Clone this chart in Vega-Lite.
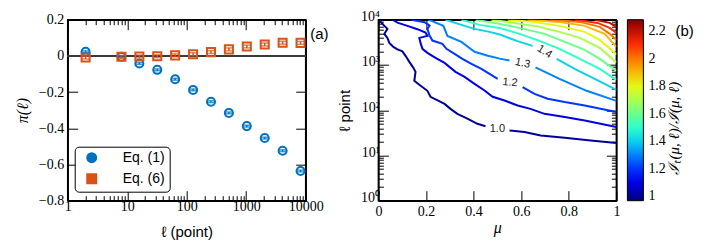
{
  "$schema": "https://vega.github.io/schema/vega-lite/v6.json",
  "padding": {"left": 12.7, "top": 8.7, "right": 0, "bottom": 0},
  "background": "white",
  "config": {
    "view": {"stroke": "black", "strokeWidth": 1.5},
    "axis": {"domainColor": "black", "domainWidth": 1.5, "tickColor": "black", "tickWidth": 1, "grid": false, "labelFont": "Liberation Serif", "labelFontSize": 14, "labelColor": "black", "titleColor": "black", "titleFontWeight": "normal", "labelFlush": false, "labelOverlap": false}
  },
  "bounds": "flush",
  "spacing": 72.7,
  "resolve": {"scale": {"color": "independent", "shape": "independent", "stroke": "independent"}, "legend": {"color": "independent", "shape": "independent", "stroke": "independent"}},
  "hconcat": [
    {
      "width": 238,
      "height": 181,
      "data": {"values": [
        {"series": "Eq. (1)", "ell": 2, "pi": 0.023, "err": 0.005},
        {"series": "Eq. (1)", "ell": 8, "pi": -0.005, "err": 0.005},
        {"series": "Eq. (1)", "ell": 16, "pi": -0.042, "err": 0.005},
        {"series": "Eq. (1)", "ell": 32, "pi": -0.077, "err": 0.005},
        {"series": "Eq. (1)", "ell": 64, "pi": -0.129, "err": 0.005},
        {"series": "Eq. (1)", "ell": 128, "pi": -0.188, "err": 0.005},
        {"series": "Eq. (1)", "ell": 256, "pi": -0.253, "err": 0.005},
        {"series": "Eq. (1)", "ell": 512, "pi": -0.315, "err": 0.005},
        {"series": "Eq. (1)", "ell": 1024, "pi": -0.388, "err": 0.005},
        {"series": "Eq. (1)", "ell": 2048, "pi": -0.454, "err": 0.005},
        {"series": "Eq. (1)", "ell": 4096, "pi": -0.524, "err": 0.005},
        {"series": "Eq. (1)", "ell": 8192, "pi": -0.636, "err": 0.005},
        {"series": "Eq. (6)", "ell": 2, "pi": -0.009, "err": 0.008},
        {"series": "Eq. (6)", "ell": 8, "pi": -0.005, "err": 0.008},
        {"series": "Eq. (6)", "ell": 16, "pi": -0.003, "err": 0.008},
        {"series": "Eq. (6)", "ell": 32, "pi": -0.002, "err": 0.008},
        {"series": "Eq. (6)", "ell": 64, "pi": 0.003, "err": 0.008},
        {"series": "Eq. (6)", "ell": 128, "pi": 0.009, "err": 0.008},
        {"series": "Eq. (6)", "ell": 256, "pi": 0.021, "err": 0.008},
        {"series": "Eq. (6)", "ell": 512, "pi": 0.036, "err": 0.008},
        {"series": "Eq. (6)", "ell": 1024, "pi": 0.052, "err": 0.008},
        {"series": "Eq. (6)", "ell": 2048, "pi": 0.063, "err": 0.008},
        {"series": "Eq. (6)", "ell": 4096, "pi": 0.073, "err": 0.008},
        {"series": "Eq. (6)", "ell": 8192, "pi": 0.072, "err": 0.008}
      ]},
      "layer": [
        {
          "mark": {"type": "rule", "color": "#3a3a3a", "strokeWidth": 2},
          "encoding": {"y": {"datum": 0, "type": "quantitative", "scale": {"domain": [-0.8, 0.2], "nice": false, "zero": false}, "axis": null}}
        },
        {
          "mark": {"type": "point", "filled": false, "strokeWidth": 2, "opacity": 1, "size": 65},
          "encoding": {
            "x": {"field": "ell", "type": "quantitative", "scale": {"type": "log", "domain": [1, 10000], "nice": false},
              "axis": {"orient": "bottom", "values": [1,2,3,4,5,6,7,8,9,10,20,30,40,50,60,70,80,90,100,200,300,400,500,600,700,800,900,1000,2000,3000,4000,5000,6000,7000,8000,9000,10000],
                "labelExpr": "abs(log(datum.value)/LN10 - round(log(datum.value)/LN10)) < 0.001 ? format(datum.value, 'd') : ''",
                "tickSize": {"condition": {"test": "abs(log(datum.value)/LN10 - round(log(datum.value)/LN10)) < 0.001", "value": -10}, "value": -5},
                "labelPadding": 9, "title": "ℓ (point)", "titleFont": "Liberation Sans", "titleFontSize": 15, "titlePadding": 6}},
            "y": {"field": "pi", "type": "quantitative", "scale": {"domain": [-0.8, 0.2], "nice": false, "zero": false},
              "axis": {"orient": "left", "values": [-0.8, -0.6, -0.4, -0.2, 0, 0.2], "labelExpr": "datum.value == 0 ? '0' : format(datum.value, '.1f')", "tickSize": -10, "labelPadding": 14, "title": "π(ℓ)", "titleFont": "Liberation Serif", "titleFontStyle": "italic", "titleFontSize": 16, "titlePadding": 8}},
            "stroke": {"field": "series", "type": "nominal", "scale": {"domain": ["Eq. (1)", "Eq. (6)"], "range": ["#0072BD", "#D95319"]},
              "legend": {"orient": "none", "legendX": 7, "legendY": 127, "title": null, "fillColor": "white", "strokeColor": "black", "cornerRadius": 4, "padding": 4, "labelFont": "Liberation Sans", "labelFontSize": 14, "labelColor": "black", "symbolStrokeWidth": 2, "symbolSize": 80, "symbolFillColor": "transparent", "rowPadding": 3, "labelOffset": 24, "symbolOffset": 6}},
            "shape": {"field": "series", "type": "nominal", "scale": {"domain": ["Eq. (1)", "Eq. (6)"], "range": ["circle", "square"]},
              "legend": {"orient": "none", "legendX": 7, "legendY": 127, "title": null, "fillColor": "white", "strokeColor": "black", "cornerRadius": 4, "padding": 4, "labelFont": "Liberation Sans", "labelFontSize": 14, "labelColor": "black", "symbolStrokeWidth": 2, "symbolSize": 80, "symbolFillColor": "transparent", "rowPadding": 3, "labelOffset": 24, "symbolOffset": 6}}
          }
        },
        {
          "mark": {"type": "errorbar", "ticks": {"size": 8, "thickness": 1.5}, "thickness": 1.5},
          "encoding": {
            "x": {"field": "ell", "type": "quantitative", "scale": {"type": "log", "domain": [1, 10000], "nice": false},
              "axis": {"orient": "top", "values": [1,2,3,4,5,6,7,8,9,10,20,30,40,50,60,70,80,90,100,200,300,400,500,600,700,800,900,1000,2000,3000,4000,5000,6000,7000,8000,9000,10000], "labels": false, "title": null,
                "tickSize": {"condition": {"test": "abs(log(datum.value)/LN10 - round(log(datum.value)/LN10)) < 0.001", "value": -10}, "value": -5}}},
            "y": {"field": "pi", "type": "quantitative", "scale": {"domain": [-0.8, 0.2], "nice": false, "zero": false},
              "axis": {"orient": "right", "values": [-0.8, -0.6, -0.4, -0.2, 0, 0.2], "labels": false, "title": null, "tickSize": -10}},
            "yError": {"field": "err"},
            "color": {"field": "series", "type": "nominal", "scale": {"domain": ["Eq. (1)", "Eq. (6)"], "range": ["#0072BD", "#D95319"]}, "legend": null}
          }
        },
        {
          "data": {"values": [{"tag": "(a)"}]},
          "mark": {"type": "text", "font": "Liberation Sans", "fontSize": 15, "color": "black", "align": "center", "baseline": "middle"},
          "encoding": {
            "x": {"datum": 17000, "type": "quantitative", "scale": {"type": "log", "domain": [1, 10000], "nice": false}, "axis": null},
            "y": {"datum": 0.12, "type": "quantitative", "scale": {"domain": [-0.8, 0.2], "nice": false, "zero": false}, "axis": null},
            "text": {"field": "tag"}
          }
        }
      ],
      "resolve": {"axis": {"x": "independent", "y": "independent"}}
    },
    {
      "width": 238,
      "height": 181,
      "layer": [
        {
          "data": {"values": [
            {"level": 1.0, "seg": "1.0a", "i": 0, "mu": 0.004, "ell": 9700},
            {"level": 1.0, "seg": "1.0a", "i": 1, "mu": 0.017, "ell": 8080},
            {"level": 1.0, "seg": "1.0a", "i": 2, "mu": 0.038, "ell": 6270},
            {"level": 1.0, "seg": "1.0a", "i": 3, "mu": 0.025, "ell": 4860},
            {"level": 1.0, "seg": "1.0a", "i": 4, "mu": 0.038, "ell": 3960},
            {"level": 1.0, "seg": "1.0a", "i": 5, "mu": 0.046, "ell": 3070},
            {"level": 1.0, "seg": "1.0a", "i": 6, "mu": 0.063, "ell": 2510},
            {"level": 1.0, "seg": "1.0a", "i": 7, "mu": 0.080, "ell": 2210},
            {"level": 1.0, "seg": "1.0a", "i": 8, "mu": 0.101, "ell": 2000},
            {"level": 1.0, "seg": "1.0a", "i": 9, "mu": 0.114, "ell": 1590},
            {"level": 1.0, "seg": "1.0a", "i": 10, "mu": 0.130, "ell": 1170},
            {"level": 1.0, "seg": "1.0a", "i": 11, "mu": 0.147, "ell": 863},
            {"level": 1.0, "seg": "1.0a", "i": 12, "mu": 0.156, "ell": 704},
            {"level": 1.0, "seg": "1.0a", "i": 13, "mu": 0.151, "ell": 446},
            {"level": 1.0, "seg": "1.0a", "i": 14, "mu": 0.172, "ell": 364},
            {"level": 1.0, "seg": "1.0a", "i": 15, "mu": 0.206, "ell": 268},
            {"level": 1.0, "seg": "1.0a", "i": 16, "mu": 0.219, "ell": 198},
            {"level": 1.0, "seg": "1.0a", "i": 17, "mu": 0.278, "ell": 138},
            {"level": 1.0, "seg": "1.0a", "i": 18, "mu": 0.303, "ell": 107},
            {"level": 1.0, "seg": "1.0a", "i": 19, "mu": 0.332, "ell": 83},
            {"level": 1.0, "seg": "1.0a", "i": 20, "mu": 0.374, "ell": 65},
            {"level": 1.0, "seg": "1.0a", "i": 21, "mu": 0.416, "ell": 50},
            {"level": 1.0, "seg": "1.0a", "i": 22, "mu": 0.450, "ell": 44},
            {"level": 1.0, "seg": "1.0b", "i": 23, "mu": 0.551, "ell": 35.6},
            {"level": 1.0, "seg": "1.0b", "i": 24, "mu": 0.614, "ell": 32.9},
            {"level": 1.0, "seg": "1.0b", "i": 25, "mu": 0.682, "ell": 27.7},
            {"level": 1.0, "seg": "1.0b", "i": 26, "mu": 0.783, "ell": 24.6},
            {"level": 1.0, "seg": "1.0b", "i": 27, "mu": 0.892, "ell": 21.4},
            {"level": 1.0, "seg": "1.0b", "i": 28, "mu": 1.0, "ell": 18.8},
            {"level": 1.1, "seg": "1.1", "i": 0, "mu": 0.059, "ell": 10000},
            {"level": 1.1, "seg": "1.1", "i": 1, "mu": 0.080, "ell": 8630},
            {"level": 1.1, "seg": "1.1", "i": 2, "mu": 0.122, "ell": 7300},
            {"level": 1.1, "seg": "1.1", "i": 3, "mu": 0.164, "ell": 6170},
            {"level": 1.1, "seg": "1.1", "i": 4, "mu": 0.198, "ell": 5190},
            {"level": 1.1, "seg": "1.1", "i": 5, "mu": 0.206, "ell": 4390},
            {"level": 1.1, "seg": "1.1", "i": 6, "mu": 0.172, "ell": 3960},
            {"level": 1.1, "seg": "1.1", "i": 7, "mu": 0.177, "ell": 3070},
            {"level": 1.1, "seg": "1.1", "i": 8, "mu": 0.185, "ell": 2270},
            {"level": 1.1, "seg": "1.1", "i": 9, "mu": 0.206, "ell": 1850},
            {"level": 1.1, "seg": "1.1", "i": 10, "mu": 0.240, "ell": 1440},
            {"level": 1.1, "seg": "1.1", "i": 11, "mu": 0.278, "ell": 1110},
            {"level": 1.1, "seg": "1.1", "i": 12, "mu": 0.324, "ell": 704},
            {"level": 1.1, "seg": "1.1", "i": 13, "mu": 0.362, "ell": 546},
            {"level": 1.1, "seg": "1.1", "i": 14, "mu": 0.404, "ell": 383},
            {"level": 1.1, "seg": "1.1", "i": 15, "mu": 0.446, "ell": 272},
            {"level": 1.1, "seg": "1.1", "i": 16, "mu": 0.480, "ell": 198},
            {"level": 1.1, "seg": "1.1", "i": 17, "mu": 0.530, "ell": 164},
            {"level": 1.1, "seg": "1.1", "i": 18, "mu": 0.585, "ell": 127},
            {"level": 1.1, "seg": "1.1", "i": 19, "mu": 0.639, "ell": 107},
            {"level": 1.1, "seg": "1.1", "i": 20, "mu": 0.698, "ell": 83},
            {"level": 1.1, "seg": "1.1", "i": 21, "mu": 0.783, "ell": 70.4},
            {"level": 1.1, "seg": "1.1", "i": 22, "mu": 0.867, "ell": 59.3},
            {"level": 1.1, "seg": "1.1", "i": 23, "mu": 1.0, "ell": 42.4},
            {"level": 1.2, "seg": "1.2a", "i": 0, "mu": 0.139, "ell": 10000},
            {"level": 1.2, "seg": "1.2a", "i": 1, "mu": 0.194, "ell": 8810},
            {"level": 1.2, "seg": "1.2a", "i": 2, "mu": 0.215, "ell": 7410},
            {"level": 1.2, "seg": "1.2a", "i": 3, "mu": 0.206, "ell": 6270},
            {"level": 1.2, "seg": "1.2a", "i": 4, "mu": 0.215, "ell": 4460},
            {"level": 1.2, "seg": "1.2a", "i": 5, "mu": 0.227, "ell": 3460},
            {"level": 1.2, "seg": "1.2a", "i": 6, "mu": 0.269, "ell": 2920},
            {"level": 1.2, "seg": "1.2a", "i": 7, "mu": 0.286, "ell": 2270},
            {"level": 1.2, "seg": "1.2a", "i": 8, "mu": 0.320, "ell": 1760},
            {"level": 1.2, "seg": "1.2a", "i": 9, "mu": 0.353, "ell": 1360},
            {"level": 1.2, "seg": "1.2a", "i": 10, "mu": 0.391, "ell": 1060},
            {"level": 1.2, "seg": "1.2a", "i": 11, "mu": 0.433, "ell": 820},
            {"level": 1.2, "seg": "1.2a", "i": 12, "mu": 0.467, "ell": 636},
            {"level": 1.2, "seg": "1.2a", "i": 13, "mu": 0.501, "ell": 494},
            {"level": 1.2, "seg": "1.2b", "i": 14, "mu": 0.606, "ell": 324},
            {"level": 1.2, "seg": "1.2b", "i": 15, "mu": 0.656, "ell": 230},
            {"level": 1.2, "seg": "1.2b", "i": 16, "mu": 0.711, "ell": 179},
            {"level": 1.2, "seg": "1.2b", "i": 17, "mu": 0.783, "ell": 151},
            {"level": 1.2, "seg": "1.2b", "i": 18, "mu": 0.867, "ell": 127},
            {"level": 1.2, "seg": "1.2b", "i": 19, "mu": 1.0, "ell": 90.8},
            {"level": 1.3, "seg": "1.3a", "i": 0, "mu": 0.210, "ell": 10000},
            {"level": 1.3, "seg": "1.3a", "i": 1, "mu": 0.273, "ell": 7300},
            {"level": 1.3, "seg": "1.3a", "i": 2, "mu": 0.290, "ell": 4390},
            {"level": 1.3, "seg": "1.3a", "i": 3, "mu": 0.349, "ell": 3240},
            {"level": 1.3, "seg": "1.3a", "i": 4, "mu": 0.404, "ell": 1950},
            {"level": 1.3, "seg": "1.3a", "i": 5, "mu": 0.460, "ell": 1600},
            {"level": 1.3, "seg": "1.3a", "i": 6, "mu": 0.510, "ell": 1380},
            {"level": 1.3, "seg": "1.3a", "i": 7, "mu": 0.551, "ell": 1260},
            {"level": 1.3, "seg": "1.3b", "i": 8, "mu": 0.660, "ell": 885},
            {"level": 1.3, "seg": "1.3b", "i": 9, "mu": 0.761, "ell": 494},
            {"level": 1.3, "seg": "1.3b", "i": 10, "mu": 0.875, "ell": 268},
            {"level": 1.3, "seg": "1.3b", "i": 11, "mu": 1.0, "ell": 161},
            {"level": 1.4, "seg": "1.4a", "i": 0, "mu": 0.282, "ell": 10000},
            {"level": 1.4, "seg": "1.4a", "i": 1, "mu": 0.349, "ell": 7680},
            {"level": 1.4, "seg": "1.4a", "i": 2, "mu": 0.404, "ell": 6270},
            {"level": 1.4, "seg": "1.4a", "i": 3, "mu": 0.467, "ell": 5380},
            {"level": 1.4, "seg": "1.4a", "i": 4, "mu": 0.509, "ell": 4730},
            {"level": 1.4, "seg": "1.4a", "i": 5, "mu": 0.581, "ell": 3400},
            {"level": 1.4, "seg": "1.4a", "i": 6, "mu": 0.648, "ell": 2640},
            {"level": 1.4, "seg": "1.4b", "i": 7, "mu": 0.749, "ell": 1360},
            {"level": 1.4, "seg": "1.4b", "i": 8, "mu": 0.825, "ell": 820},
            {"level": 1.4, "seg": "1.4b", "i": 9, "mu": 0.909, "ell": 494},
            {"level": 1.4, "seg": "1.4b", "i": 10, "mu": 1.0, "ell": 282},
            {"level": 1.5, "seg": "1.5", "i": 0, "mu": 0.349, "ell": 10000},
            {"level": 1.5, "seg": "1.5", "i": 1, "mu": 0.425, "ell": 7680},
            {"level": 1.5, "seg": "1.5", "i": 2, "mu": 0.509, "ell": 6590},
            {"level": 1.5, "seg": "1.5", "i": 3, "mu": 0.593, "ell": 4860},
            {"level": 1.5, "seg": "1.5", "i": 4, "mu": 0.677, "ell": 3400},
            {"level": 1.5, "seg": "1.5", "i": 5, "mu": 0.761, "ell": 2270},
            {"level": 1.5, "seg": "1.5", "i": 6, "mu": 0.846, "ell": 1360},
            {"level": 1.5, "seg": "1.5", "i": 7, "mu": 0.930, "ell": 820},
            {"level": 1.5, "seg": "1.5", "i": 8, "mu": 1.0, "ell": 469},
            {"level": 1.6, "seg": "1.6", "i": 0, "mu": 0.408, "ell": 10000},
            {"level": 1.6, "seg": "1.6", "i": 1, "mu": 0.509, "ell": 8080},
            {"level": 1.6, "seg": "1.6", "i": 2, "mu": 0.593, "ell": 6590},
            {"level": 1.6, "seg": "1.6", "i": 3, "mu": 0.698, "ell": 4860},
            {"level": 1.6, "seg": "1.6", "i": 4, "mu": 0.783, "ell": 3240},
            {"level": 1.6, "seg": "1.6", "i": 5, "mu": 0.867, "ell": 2150},
            {"level": 1.6, "seg": "1.6", "i": 6, "mu": 0.930, "ell": 1360},
            {"level": 1.6, "seg": "1.6", "i": 7, "mu": 1.0, "ell": 741},
            {"level": 1.7, "seg": "1.7", "i": 0, "mu": 0.475, "ell": 10000},
            {"level": 1.7, "seg": "1.7", "i": 1, "mu": 0.572, "ell": 8500},
            {"level": 1.7, "seg": "1.7", "i": 2, "mu": 0.677, "ell": 6940},
            {"level": 1.7, "seg": "1.7", "i": 3, "mu": 0.761, "ell": 5380},
            {"level": 1.7, "seg": "1.7", "i": 4, "mu": 0.846, "ell": 3960},
            {"level": 1.7, "seg": "1.7", "i": 5, "mu": 0.930, "ell": 2380},
            {"level": 1.7, "seg": "1.7", "i": 6, "mu": 1.0, "ell": 1140},
            {"level": 1.8, "seg": "1.8", "i": 0, "mu": 0.543, "ell": 10000},
            {"level": 1.8, "seg": "1.8", "i": 1, "mu": 0.656, "ell": 8940},
            {"level": 1.8, "seg": "1.8", "i": 2, "mu": 0.761, "ell": 7300},
            {"level": 1.8, "seg": "1.8", "i": 3, "mu": 0.867, "ell": 5380},
            {"level": 1.8, "seg": "1.8", "i": 4, "mu": 0.930, "ell": 3580},
            {"level": 1.8, "seg": "1.8", "i": 5, "mu": 1.0, "ell": 1710},
            {"level": 1.9, "seg": "1.9", "i": 0, "mu": 0.627, "ell": 10000},
            {"level": 1.9, "seg": "1.9", "i": 1, "mu": 0.761, "ell": 8940},
            {"level": 1.9, "seg": "1.9", "i": 2, "mu": 0.867, "ell": 7300},
            {"level": 1.9, "seg": "1.9", "i": 3, "mu": 0.951, "ell": 4860},
            {"level": 1.9, "seg": "1.9", "i": 4, "mu": 1.0, "ell": 2510},
            {"level": 2.0, "seg": "2.0", "i": 0, "mu": 0.719, "ell": 10000},
            {"level": 2.0, "seg": "2.0", "i": 1, "mu": 0.846, "ell": 8940},
            {"level": 2.0, "seg": "2.0", "i": 2, "mu": 0.930, "ell": 6940},
            {"level": 2.0, "seg": "2.0", "i": 3, "mu": 0.972, "ell": 4860},
            {"level": 2.0, "seg": "2.0", "i": 4, "mu": 1.0, "ell": 3580},
            {"level": 2.1, "seg": "2.1", "i": 0, "mu": 0.825, "ell": 10000},
            {"level": 2.1, "seg": "2.1", "i": 1, "mu": 0.921, "ell": 8500},
            {"level": 2.1, "seg": "2.1", "i": 2, "mu": 0.972, "ell": 6590},
            {"level": 2.1, "seg": "2.1", "i": 3, "mu": 1.0, "ell": 5120},
            {"level": 2.2, "seg": "2.2", "i": 0, "mu": 0.909, "ell": 10000},
            {"level": 2.2, "seg": "2.2", "i": 1, "mu": 0.972, "ell": 8500},
            {"level": 2.2, "seg": "2.2", "i": 2, "mu": 1.0, "ell": 6940}
          ]},
          "mark": {"type": "line", "strokeWidth": 2, "clip": true},
          "encoding": {
            "x": {"field": "mu", "type": "quantitative", "scale": {"domain": [0, 1], "nice": false, "zero": false},
              "axis": {"orient": "bottom", "values": [0, 0.2, 0.4, 0.6, 0.8, 1], "format": "~g", "tickSize": -10, "labelPadding": 14, "title": "μ", "titleFont": "Liberation Serif", "titleFontStyle": "italic", "titleFontSize": 16, "titlePadding": 1}},
            "y": {"field": "ell", "type": "quantitative", "scale": {"type": "log", "domain": [1, 10000], "nice": false},
              "axis": {"orient": "left", "values": [1,2,3,4,5,6,7,8,9,10,20,30,40,50,60,70,80,90,100,200,300,400,500,600,700,800,900,1000,2000,3000,4000,5000,6000,7000,8000,9000,10000],
                "labelExpr": "abs(log(datum.value)/LN10 - round(log(datum.value)/LN10)) < 0.001 ? '10' + ['⁰','¹','²','³','⁴'][round(log(datum.value)/LN10)] : ''",
                "tickSize": {"condition": {"test": "abs(log(datum.value)/LN10 - round(log(datum.value)/LN10)) < 0.001", "value": -10}, "value": -5},
                "labelPadding": 9, "labelOffset": -3, "title": "ℓ point", "titleFont": "Liberation Sans", "titleFontSize": 15, "titlePadding": 8}},
            "color": {"field": "level", "type": "quantitative",
              "scale": {"domain": [0.969, 2.282], "range": ["#000080", "#0000ff", "#0080ff", "#15ffe2", "#7bff7b", "#e2ff15", "#ff9700", "#ff2100", "#800000"], "interpolate": "rgb"},
              "legend": {"type": "gradient", "orient": "none", "legendX": 249, "legendY": 0, "direction": "vertical", "gradientLength": 181, "gradientThickness": 16, "title": null, "values": [1, 1.2, 1.4, 1.6, 1.8, 2, 2.2], "format": "~g", "labelFont": "Liberation Serif", "labelFontSize": 14, "labelColor": "black", "labelOffset": 5, "gradientStrokeColor": "black", "gradientStrokeWidth": 1, "labelOverlap": false, "padding": 0}},
            "detail": {"field": "seg"},
            "order": {"field": "i", "type": "quantitative"}
          }
        },
        {
          "data": {"values": [
            {"label": "1.0", "level": 1.0, "mu": 0.50, "ell": 39},
            {"label": "1.2", "level": 1.2, "mu": 0.553, "ell": 405},
            {"label": "1.3", "level": 1.3, "mu": 0.606, "ell": 1080},
            {"label": "1.4", "level": 1.4, "mu": 0.698, "ell": 1950}
          ]},
          "mark": {"type": "text", "font": "Liberation Sans", "fontSize": 11, "color": "#222222", "align": "center", "baseline": "middle"},
          "encoding": {
            "x": {"field": "mu", "type": "quantitative", "scale": {"domain": [0, 1], "nice": false, "zero": false},
              "axis": {"orient": "top", "values": [0, 0.2, 0.4, 0.6, 0.8, 1], "labels": false, "title": null, "tickSize": -10}},
            "y": {"field": "ell", "type": "quantitative", "scale": {"type": "log", "domain": [1, 10000], "nice": false},
              "axis": {"orient": "right", "values": [1,2,3,4,5,6,7,8,9,10,20,30,40,50,60,70,80,90,100,200,300,400,500,600,700,800,900,1000,2000,3000,4000,5000,6000,7000,8000,9000,10000], "labels": false,
                "tickSize": {"condition": {"test": "abs(log(datum.value)/LN10 - round(log(datum.value)/LN10)) < 0.001", "value": -10}, "value": -5},
                "title": "ℐₜ(μ, ℓ)/ℐ(μ, ℓ)", "titleFont": "Liberation Serif", "titleFontStyle": "italic", "titleFontSize": 15, "titleAngle": 270, "titleX": 57, "titleY": 108, "titleAlign": "center", "titleBaseline": "middle"}},
            "text": {"field": "label"},
            "angle": {"field": "level", "type": "quantitative", "scale": {"domain": [1.0, 1.2, 1.3, 1.4], "range": [0, 5, 12, 32]}}
          }
        },
        {
          "data": {"values": [{"tag": "(b)"}]},
          "mark": {"type": "text", "font": "Liberation Sans", "fontSize": 15, "color": "black", "align": "center", "baseline": "middle"},
          "encoding": {
            "x": {"datum": 1.287, "type": "quantitative", "scale": {"domain": [0, 1], "nice": false, "zero": false}, "axis": null},
            "y": {"datum": 5660, "type": "quantitative", "scale": {"type": "log", "domain": [1, 10000], "nice": false}, "axis": null},
            "text": {"field": "tag"}
          }
        }
      ],
      "resolve": {"axis": {"x": "independent", "y": "independent"}}
    }
  ]
}
